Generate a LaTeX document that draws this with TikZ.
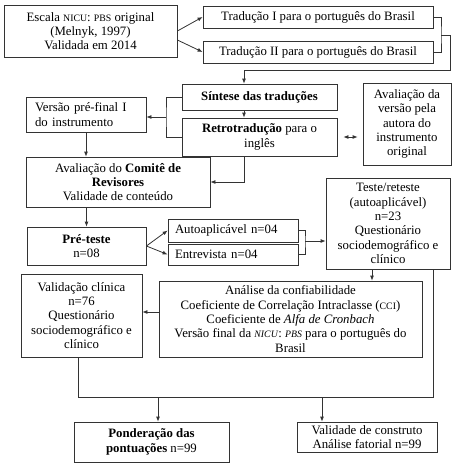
\documentclass[tikz,border=0pt]{standalone}
\usepackage{fontspec}
\setmainfont{Liberation Serif}
\usetikzlibrary{arrows.meta,calc}

% smaller capitals for the acronyms
\newcommand{\capsize}{\fontsize{9.8}{10}\selectfont}

\begin{document}
\begin{tikzpicture}[
    x=1pt, y=-1pt,
    >={Latex[length=5pt,width=4pt]},
    line width=0.8pt,
    box/.style={draw=black!80, line width=0.8pt, inner sep=0pt, align=center,
                font=\fontsize{12.8}{14.3}\selectfont},
    lbox/.style={box, align=left, text width=#1},
    link/.style={draw=black!80, line width=0.8pt}
]

\useasboundingbox (0,0) rectangle (454,466);

% --- 1. TRANSLATION ---
\node[box, minimum width=173, minimum height=52] (escala) at (90.5,31)
    {Escala {\capsize NICU}: {\capsize PBS} original\\(Melnyk, 1997)\\Validada em 2014};
\node[box, minimum width=230, minimum height=22] (trad1) at (318,17)
    {Tradução I para o português do Brasil};
\node[box, minimum width=230, minimum height=22] (trad2) at (318,52)
    {Tradução II para o português do Brasil};
\node[box, minimum width=155, minimum height=26] (sintese) at (259.5,97)
    {\textbf{Síntese das traduções}};
\node[box, minimum width=155, minimum height=38] (retro) at (259.5,137)
    {\textbf{Retrotradução} para o\\inglês};
\node[box, minimum width=88, minimum height=82] (avalver) at (407,124)
    {Avaliação da\\versão pela\\autora do\\instrumento\\original};
\node[lbox=102, minimum width=120, minimum height=35] (prefinal) at (86,114.5)
    {Versão pré-final I\\do instrumento};

% --- 2. COMMITTEE & PRE-TEST ---
\node[box, minimum width=184, minimum height=50] (comite) at (118,182)
    {Avaliação do \textbf{Comitê de}\\\textbf{Revisores}\\Validade de conteúdo};
\node[box, minimum width=119, minimum height=38] (preteste) at (86.5,246)
    {\textbf{Pré-teste}\\n=08};
\node[lbox=116, minimum width=130, minimum height=23] (auto) at (233,230.5)
    {Autoaplicável n=04};
\node[lbox=116, minimum width=130, minimum height=21] (entrev) at (233,254.5)
    {Entrevista n=04};
\node[box, minimum width=124, minimum height=91] (teste) at (388,223.5)
    {Teste/reteste\\(autoaplicável)\\n=23\\Questionário\\sociodemográfico e\\clínico};

% --- 3. VALIDATION ---
\node[box, minimum width=263, minimum height=76] (analise) at (290.5,319)
    {Análise da confiabilidade\\
     Coeficiente de Correlação Intraclasse ({\capsize CCI})\\
     Coeficiente de \textit{Alfa de Cronbach}\\
     Versão final da \textit{\capsize NICU}: \textit{\capsize PBS} para o português do\\
     Brasil};
\node[box, minimum width=121, minimum height=83] (valclin) at (81.5,315.5)
    {Validação clínica\\n=76\\Questionário\\sociodemográfico e\\clínico};
\node[box, minimum width=155, minimum height=40] (ponder) at (151.5,442)
    {\textbf{Ponderação das}\\\textbf{pontuações} n=99};
\node[box, minimum width=140, minimum height=30] (construto) at (367,437)
    {Validade de construto\\Análise fatorial n=99};

% --- 4. CONNECTORS ---
\coordinate (jtrad) at (441,35);
\coordinate (jsint) at (244,70);
\coordinate (jpre) at (166,117);
\coordinate (jtst) at (305,241);
\coordinate (jana) at (372,275);
\coordinate (jcl) at (159,312);
\coordinate (jbot) at (433,397);
\coordinate (jcli) at (78,397);
\coordinate (jpon) at (158,397);
\coordinate (jcon) at (322,397);

\draw[link, ->] (escala.east) -- (trad1.west);
\draw[link, ->] ($(escala.east)+(0,9)$) -- (trad2.west);
\draw[link] (trad1.east) -| (jtrad) |- (trad2.east);
\draw[link, ->] (jtrad) -- ++(9,0) |- (jsint) -- (jsint |- sintese.north);
\draw[link, ->] (sintese.south -| jsint) -- (retro.north -| jsint);

\draw[link] (sintese.west) -| (jpre) |- (retro.west);
\draw[link, ->] (jpre) -- (jpre -| prefinal.east);
\draw[link, <->, shorten <=6pt, shorten >=5pt] (retro.east) -- (retro.east -| avalver.west);

\draw[link, ->] (prefinal.south) -- (prefinal.south |- comite.north);
\draw[link, ->] (retro.south -| jsint) |- (comite.east);
\draw[link, ->] (comite.south -| preteste.north) -- (preteste.north);

\draw[link, ->] (preteste.east) -- (auto.west);
\draw[link, ->] (preteste.east) -- (entrev.west);
\draw[link] (auto.east) -| (jtst) |- (entrev.east);
\draw[link, ->] (jtst) -- (jtst -| teste.west);

\draw[link, ->] (teste.south -| jana) -- (analise.north -| jana);
\draw[link, ->] (jcl) -- (jcl -| valclin.east);

\draw[link] (teste.south -| jbot) -- (jbot) -- (jcli) -- (jcli |- valclin.south);
\draw[link, ->] (jpon) -- (jpon |- ponder.north);
\draw[link, ->] (jcon) -- (jcon |- construto.north);

\end{tikzpicture}
\end{document}
